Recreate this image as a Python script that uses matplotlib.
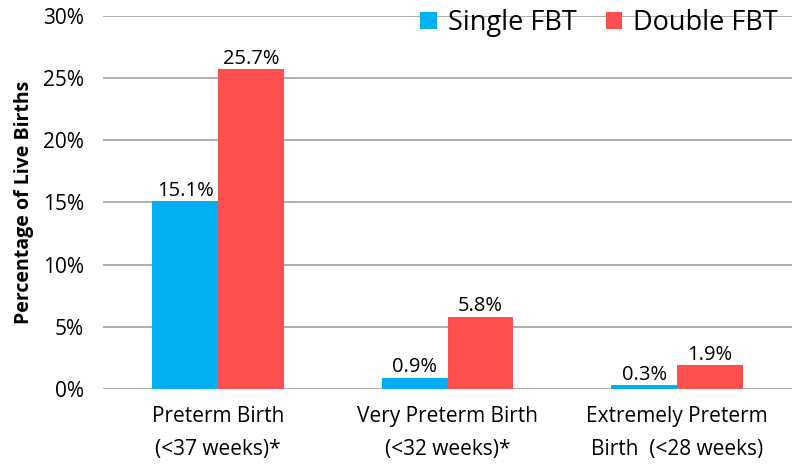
import matplotlib
matplotlib.use("Agg")
import matplotlib.pyplot as plt
import numpy as np

categories = ["Preterm Birth\n(<37 weeks)*", "Very Preterm Birth\n(<32 weeks)*", "Extremely Preterm\nBirth  (<28 weeks)"]
single_fbt = [15.1, 0.9, 0.3]
double_fbt = [25.7, 5.8, 1.9]
series_names = ["Single FBT", "Double FBT"]
yticks = [0, 5, 10, 15, 20, 25, 30]

plt.rcParams['font.family'] = ['Open Sans', 'DejaVu Sans']

fig = plt.figure(figsize=(8, 4.72), dpi=100)
ax = fig.add_axes([0.129, 0.176, 0.861, 0.79])

x = np.arange(len(categories))
w = 0.287
blue = "#00B0F0"
red = "#FF4F4F"
b1 = ax.bar(x - w/2, single_fbt, w, color=blue, label=series_names[0], zorder=3)
b2 = ax.bar(x + w/2, double_fbt, w, color=red, label=series_names[1], zorder=3)

for bars, vals in ((b1, single_fbt), (b2, double_fbt)):
    for r, v in zip(bars, vals):
        ax.text(r.get_x() + r.get_width()/2, v + 0.05, f"{v:.1f}%", ha="center", va="bottom",
                fontsize=14.5, zorder=4)

ax.set_xlim(-0.5, 2.5)
ax.set_ylim(0, 30)
ax.set_yticks(yticks)
ax.set_yticklabels([f"{t}%" for t in yticks], fontsize=15)
ax.set_xticks(x)
ax.set_xticklabels(categories, fontsize=15, linespacing=1.75)
ax.tick_params(axis="y", length=0, pad=14)
ax.tick_params(axis="x", length=0, pad=12)
ax.yaxis.grid(True, color="#A0A0A0", linewidth=1.2, zorder=0)
for s in ax.spines.values():
    s.set_visible(False)
ax.set_ylabel("Percentage of Live Births", fontsize=14, fontweight="bold", labelpad=6)

ax.legend(loc="upper right", bbox_to_anchor=(1.015, 1.085), ncol=2, frameon=False, fontsize=19.5,
          handlelength=0.6, handleheight=0.6, handletextpad=0.4, columnspacing=1.1)

fig.savefig("out.png", dpi=100)
